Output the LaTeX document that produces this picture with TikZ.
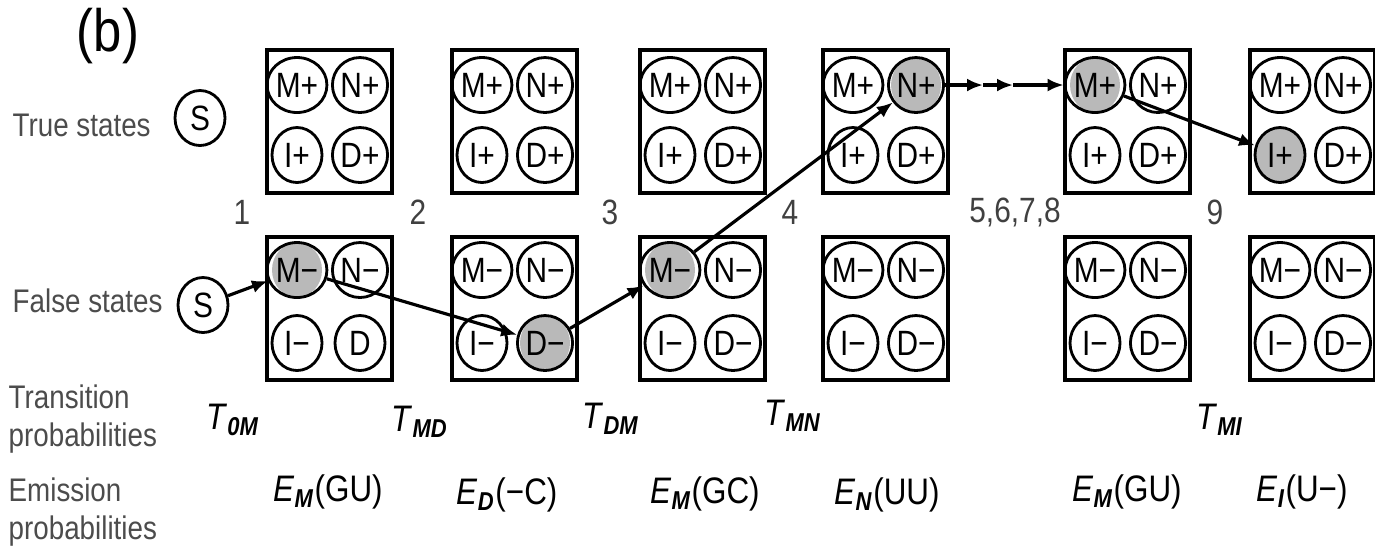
\documentclass[tikz,border=0pt]{standalone}
\usepackage{fontspec}
\setmainfont{Liberation Sans}[FakeStretch=0.85]
\usetikzlibrary{shapes.geometric,arrows.meta,backgrounds}
\newcommand{\Tp}[1]{\textit{T}\textsubscript{\bfseries\itshape #1}}
\newcommand{\Ep}[2]{\textit{E}\textsubscript{\bfseries\itshape #1}(#2)}
\begin{document}
\begin{tikzpicture}[
		st/.style={draw, thick, ellipse, minimum width=5mm, minimum height=5.5mm, inner sep=0pt, font=\fontsize{10}{10}\selectfont},
		cell/.style={draw, line width=0.9pt, minimum width=12.5mm, minimum height=14.3mm, inner sep=0pt},
		arr/.style={line width=0.9pt, -{Latex[length=1.6mm,width=1.3mm]}},
		lbl/.style={anchor=west, align=left, inner sep=0pt, text=black!70, font=\fontsize{9.3}{10.6}\selectfont},
		num/.style={text=black!75, font=\fontsize{10}{10}\selectfont},
		prob/.style={font=\fontsize{10.5}{10.5}\selectfont}]
		\useasboundingbox (0,0) rectangle (13.75,-5.47);
		\node [font=\fontsize{17}{17}\selectfont] (title) at (1.08,-0.36) {(b)};
		% Zeilen
		\node [lbl] (ltrue) at (0.12,-1.25) {True states};
		\node [lbl] (lfalse) at (0.12,-3.01) {False states};
		\node [lbl] (ltrans) at (0.08,-4.19) {Transition\\probabilities};
		\node [lbl] (lemis) at (0.08,-5.12) {Emission\\probabilities};
		% Startzustaende
		\node [st] (tS) at (2.00,-1.18) {S};
		\node [st] (fS) at (2.03,-3.05) {S};
		% Kaesten mit je vier Zustaenden
		\foreach \i/\x/\d in {1/2.67/D, 2/4.52/D−, 3/6.40/D−, 4/8.23/D−, 5/10.65/D−, 6/12.50/D−} {
			\node [cell] (tb\i) at (\x+0.625,-1.215) {};
			\node [cell] (fb\i) at (\x+0.625,-3.085) {};
			\node [st] (t\i M) at (\x+0.30,-0.85) {M+};
			\node [st] (t\i N) at (\x+0.93,-0.85) {N+};
			\node [st] (t\i I) at (\x+0.30,-1.55) {I+};
			\node [st] (t\i D) at (\x+0.93,-1.55) {D+};
			\node [st] (f\i M) at (\x+0.30,-2.70) {M−};
			\node [st] (f\i N) at (\x+0.93,-2.70) {N−};
			\node [st] (f\i I) at (\x+0.30,-3.43) {I−};
			\node [st] (f\i D) at (\x+0.93,-3.43) {\d};
		}
		% besuchte Zustaende grau
		\begin{scope}[on background layer]
			\foreach \n in {f1M, f2D, f3M, t4N, t5M, t6I}
				\fill [gray!55] (\n.center) ellipse [x radius=2.5mm, y radius=2.75mm];
		\end{scope}
		% Positionen
		\node [num] (n1) at (2.42,-2.12) {1};
		\node [num] (n2) at (4.18,-2.12) {2};
		\node [num] (n3) at (6.10,-2.12) {3};
		\node [num] (n4) at (7.90,-2.12) {4};
		\node [num] (n5) at (10.15,-2.12) {5,6,7,8};
		\node [num] (n9) at (12.15,-2.12) {9};
		% Pfad
		\coordinate (m1) at (9.83,-0.85);
		\coordinate (m2) at (10.13,-0.85);
		\draw [arr] (fS) -- (f1M);
		\draw [arr] (f1M) -- (f2D);
		\draw [arr] (f2D) -- (f3M);
		\draw [arr] (f3M) -- (t4N);
		\draw [arr] (t4N) -- (m1);
		\draw [arr] (m1) -- (m2);
		\draw [arr] (m2) -- (t5M);
		\draw [arr] (t5M) -- (t6I);
		% Wahrscheinlichkeiten
		\node [prob] (tr1) at (2.33,-4.20) {\Tp{0M}};
		\node [prob] (tr2) at (4.20,-4.22) {\Tp{MD}};
		\node [prob] (tr3) at (6.11,-4.19) {\Tp{DM}};
		\node [prob] (tr4) at (7.93,-4.16) {\Tp{MN}};
		\node [prob] (tr9) at (12.20,-4.20) {\Tp{MI}};
		\node [prob] (em1) at (3.28,-4.92) {\Ep{M}{GU}};
		\node [prob] (em2) at (5.07,-4.95) {\Ep{D}{−C}};
		\node [prob] (em3) at (7.05,-4.94) {\Ep{M}{GC}};
		\node [prob] (em4) at (8.87,-4.95) {\Ep{N}{UU}};
		\node [prob] (em5) at (11.27,-4.92) {\Ep{M}{GU}};
		\node [prob] (em9) at (13.02,-4.92) {\Ep{I}{U−}};
\end{tikzpicture}
\end{document}
